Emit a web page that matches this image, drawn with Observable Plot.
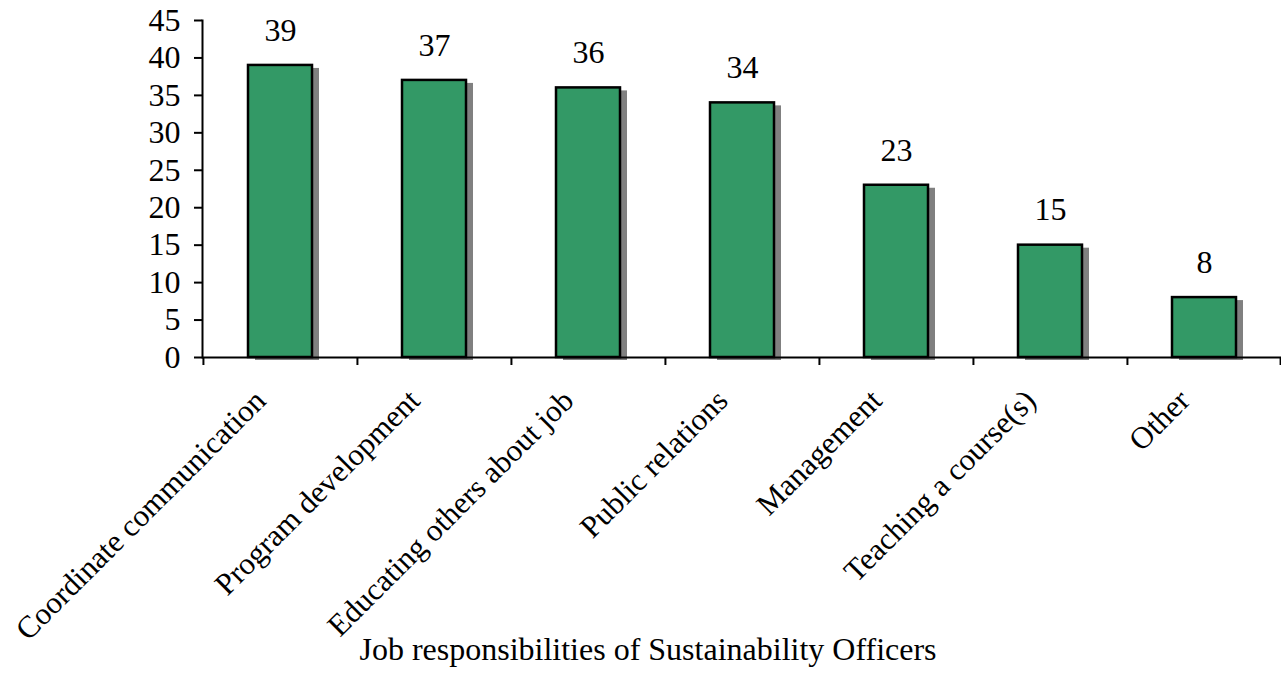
<!DOCTYPE html>
<html>
<head>
<meta charset="utf-8">
<script src="https://cdn.jsdelivr.net/npm/d3@7"></script>
<script src="https://cdn.jsdelivr.net/npm/@observablehq/plot@0.6"></script>
<style>
  html, body { margin: 0; padding: 0; background: #fff; }
  #chart svg { display: block; }
</style>
</head>
<body>
<div id="chart"></div>
<script>
const categories = [
  "Coordinate communication",
  "Program development",
  "Educating others about job",
  "Public relations",
  "Management",
  "Teaching a course(s)",
  "Other"
];
const values = [39, 37, 36, 34, 23, 15, 8];
const yTicks = [0, 5, 10, 15, 20, 25, 30, 35, 40, 45];
const xTitle = "Job responsibilities of Sustainability Officers";

const data = categories.map((c, i) => ({category: c, value: values[i]}));

const W = 1281, H = 690;
const mL = 202, mR = 0, mT = 20, mB = 333;
const step = (W - mL - mR) / categories.length;
const font = '"Liberation Serif", "Times New Roman", serif';
const fs = 32;

const chart = Plot.plot({
  width: W,
  height: H,
  marginLeft: mL,
  marginRight: mR,
  marginTop: mT,
  marginBottom: mB,
  style: {fontFamily: font, fontSize: fs + "px", color: "#000", background: "#fff"},
  x: {domain: categories, paddingInner: 0.585, paddingOuter: 0.2925, axis: null},
  y: {domain: [0, 45], axis: null},
  marks: [
    // shadows
    Plot.barY(data, {x: "category", y: "value", fill: "#808080", dx: 7, dy: 3}),
    // bars
    Plot.barY(data, {x: "category", y: "value", fill: "#339966", stroke: "#000", strokeWidth: 2.5}),
    // y axis
    Plot.axisY({ticks: yTicks, label: null, tickSize: 8, tickPadding: 14, fontSize: fs, fontFamily: font, stroke: "#000", strokeWidth: 2, tickFormat: d => String(d)}),
    Plot.frame({anchor: "left", stroke: "#000", strokeWidth: 2}),
    // x axis line
    Plot.ruleY([0], {stroke: "#000", strokeWidth: 2}),
    // x boundary ticks
    Plot.ruleX(categories, {x: d => d, y1: 0, y2: 0, insetBottom: -8, dx: -step / 2, stroke: "#000", strokeWidth: 2}),
    Plot.ruleX(categories.slice(-1), {x: d => d, y1: 0, y2: 0, insetBottom: -8, dx: step / 2 - 1, stroke: "#000", strokeWidth: 2}),
    // category labels
    Plot.text(categories, {x: d => d, y: 0, text: d => d, rotate: -45, textAnchor: "end", dx: -20, dy: 38, fontSize: 31, fontFamily: font, fill: "#000"}),
    // value labels
    Plot.text(data, {x: "category", y: "value", text: d => String(d.value), dy: -35, fontSize: fs, fontFamily: font, fill: "#000"}),
    // x title
    Plot.text([xTitle], {frameAnchor: "bottom", text: d => d, dx: -94, dy: 302, fontSize: fs, fontFamily: font, fill: "#000"})
  ]
});
document.getElementById("chart").appendChild(chart);
</script>
</body>
</html>
